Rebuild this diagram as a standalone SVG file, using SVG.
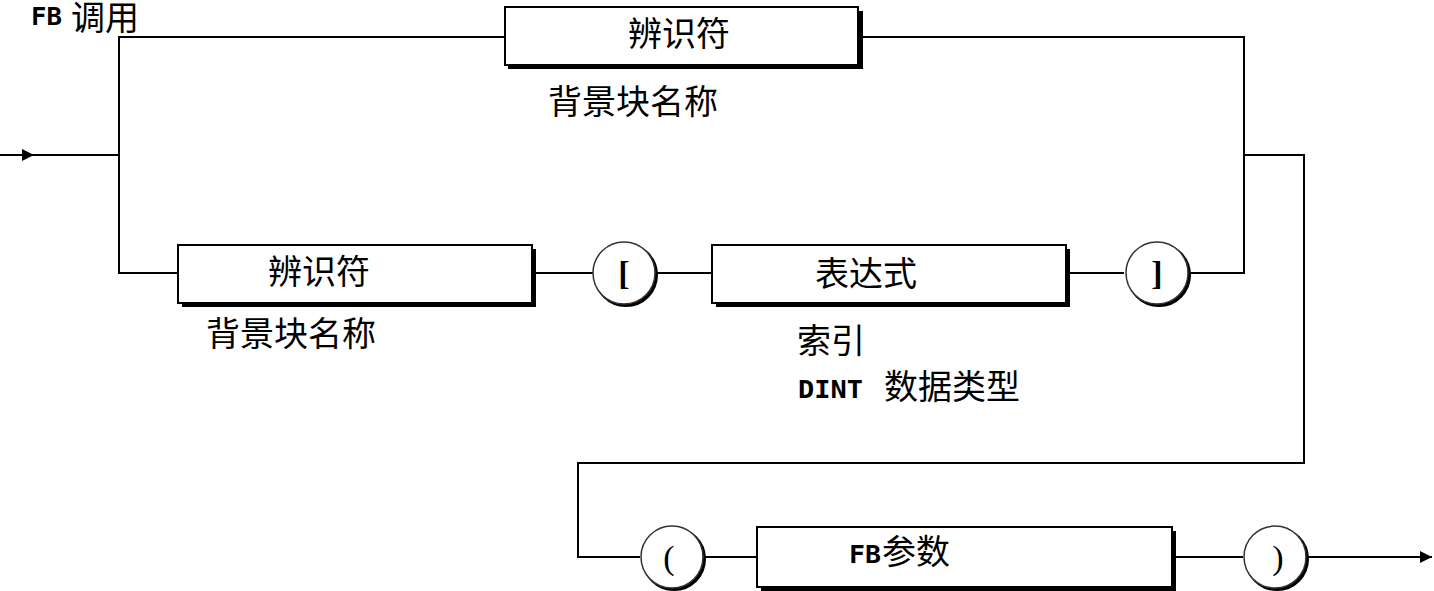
<svg xmlns="http://www.w3.org/2000/svg" width="1434" height="591" viewBox="0 0 1434 591">
<defs>
<style>
.ln{fill:none;stroke:#000;stroke-width:2}
.bx{fill:#fff;stroke:#000;stroke-width:2}
.sh{fill:#000}
.cs{fill:none;stroke:#000;stroke-width:4}
.cc{fill:#fff;stroke:#333;stroke-width:1.5}
.zh{font-family:"Noto Sans CJK SC","Noto Sans CJK TC",sans-serif;font-size:34px;fill:#000}
.lat{font-family:"DejaVu Sans Mono","Liberation Mono",monospace;font-weight:bold;fill:#000}
.br{font-family:"Liberation Serif",serif;font-size:34px;fill:#000;text-anchor:middle}
</style>
<marker id="ah" markerWidth="12" markerHeight="12" refX="12" refY="6" orient="auto" markerUnits="userSpaceOnUse">
<path d="M0,0 L12,6 L0,12 Z" fill="#000"/>
</marker>
</defs>
<rect width="1434" height="591" fill="#fff"/>
<g id="connectors">
<line class="ln" x1="0" y1="155" x2="34" y2="155" marker-end="url(#ah)"/>
<line class="ln" x1="30" y1="155" x2="119" y2="155"/>
<polyline class="ln" points="504,37 119,37 119,273 178,273"/>
<polyline class="ln" points="860,37 1244,37 1244,273 1190,273"/>
<line class="ln" x1="534" y1="273" x2="593" y2="273"/>
<line class="ln" x1="655" y1="273" x2="712" y2="273"/>
<line class="ln" x1="1068" y1="273" x2="1124" y2="273"/>
<polyline class="ln" points="1244,155 1304,155 1304,463 578,463 578,557 640,557"/>
<line class="ln" x1="704" y1="557" x2="757" y2="557"/>
<line class="ln" x1="1174" y1="557" x2="1243" y2="557"/>
<line class="ln" x1="1307" y1="557" x2="1432" y2="557" marker-end="url(#ah)"/>
</g>
<g id="title">
<text x="31" y="25" class="lat" font-size="25" textLength="31" lengthAdjust="spacingAndGlyphs">FB</text>
<text x="71" y="30" class="zh" font-size="31">调用</text>
</g>
<g id="top-box">
<rect class="sh" x="508" y="11" width="355" height="58"/>
<rect class="bx" x="505" y="7" width="353" height="58"/>
<text x="679" y="46" class="zh" text-anchor="middle">辨识符</text>
<text x="548" y="114" class="zh">背景块名称</text>
</g>
<g id="low-box">
<rect class="sh" x="182" y="249" width="354" height="58"/>
<rect class="bx" x="178" y="245" width="354" height="58"/>
<text x="319" y="284" class="zh" text-anchor="middle">辨识符</text>
<text x="206" y="346" class="zh">背景块名称</text>
</g>
<g id="lbracket">
<circle class="cs" cx="626" cy="275" r="30"/>
<circle class="cc" cx="624" cy="273" r="31"/>
<text x="624" y="285" class="br" font-weight="bold">[</text>
</g>
<g id="expr-box">
<rect class="sh" x="716" y="249" width="354" height="58"/>
<rect class="bx" x="712" y="245" width="354" height="58"/>
<text x="866" y="286" class="zh" text-anchor="middle">表达式</text>
<text x="797" y="353" class="zh">索引</text>
<text x="798" y="398" class="lat" font-size="25" textLength="65" lengthAdjust="spacingAndGlyphs">DINT</text>
<text x="884" y="399" class="zh">数据类型</text>
</g>
<g id="rbracket">
<circle class="cs" cx="1159" cy="275" r="30"/>
<circle class="cc" cx="1157" cy="273" r="31"/>
<text x="1157" y="285" class="br" font-weight="bold">]</text>
</g>
<g id="lparen">
<circle class="cs" cx="674" cy="559" r="30"/>
<circle class="cc" cx="672" cy="557" r="31"/>
<text x="669" y="569" class="br">(</text>
</g>
<g id="fbparam-box">
<rect class="sh" x="761" y="531" width="415" height="60"/>
<rect class="bx" x="757" y="527" width="415" height="60"/>
<text x="849" y="563" class="lat" font-size="25" textLength="32" lengthAdjust="spacingAndGlyphs">FB</text>
<text x="882" y="564" class="zh">参数</text>
</g>
<g id="rparen">
<circle class="cs" cx="1277" cy="559" r="30"/>
<circle class="cc" cx="1275" cy="557" r="31"/>
<text x="1278" y="569" class="br">)</text>
</g>
</svg>
